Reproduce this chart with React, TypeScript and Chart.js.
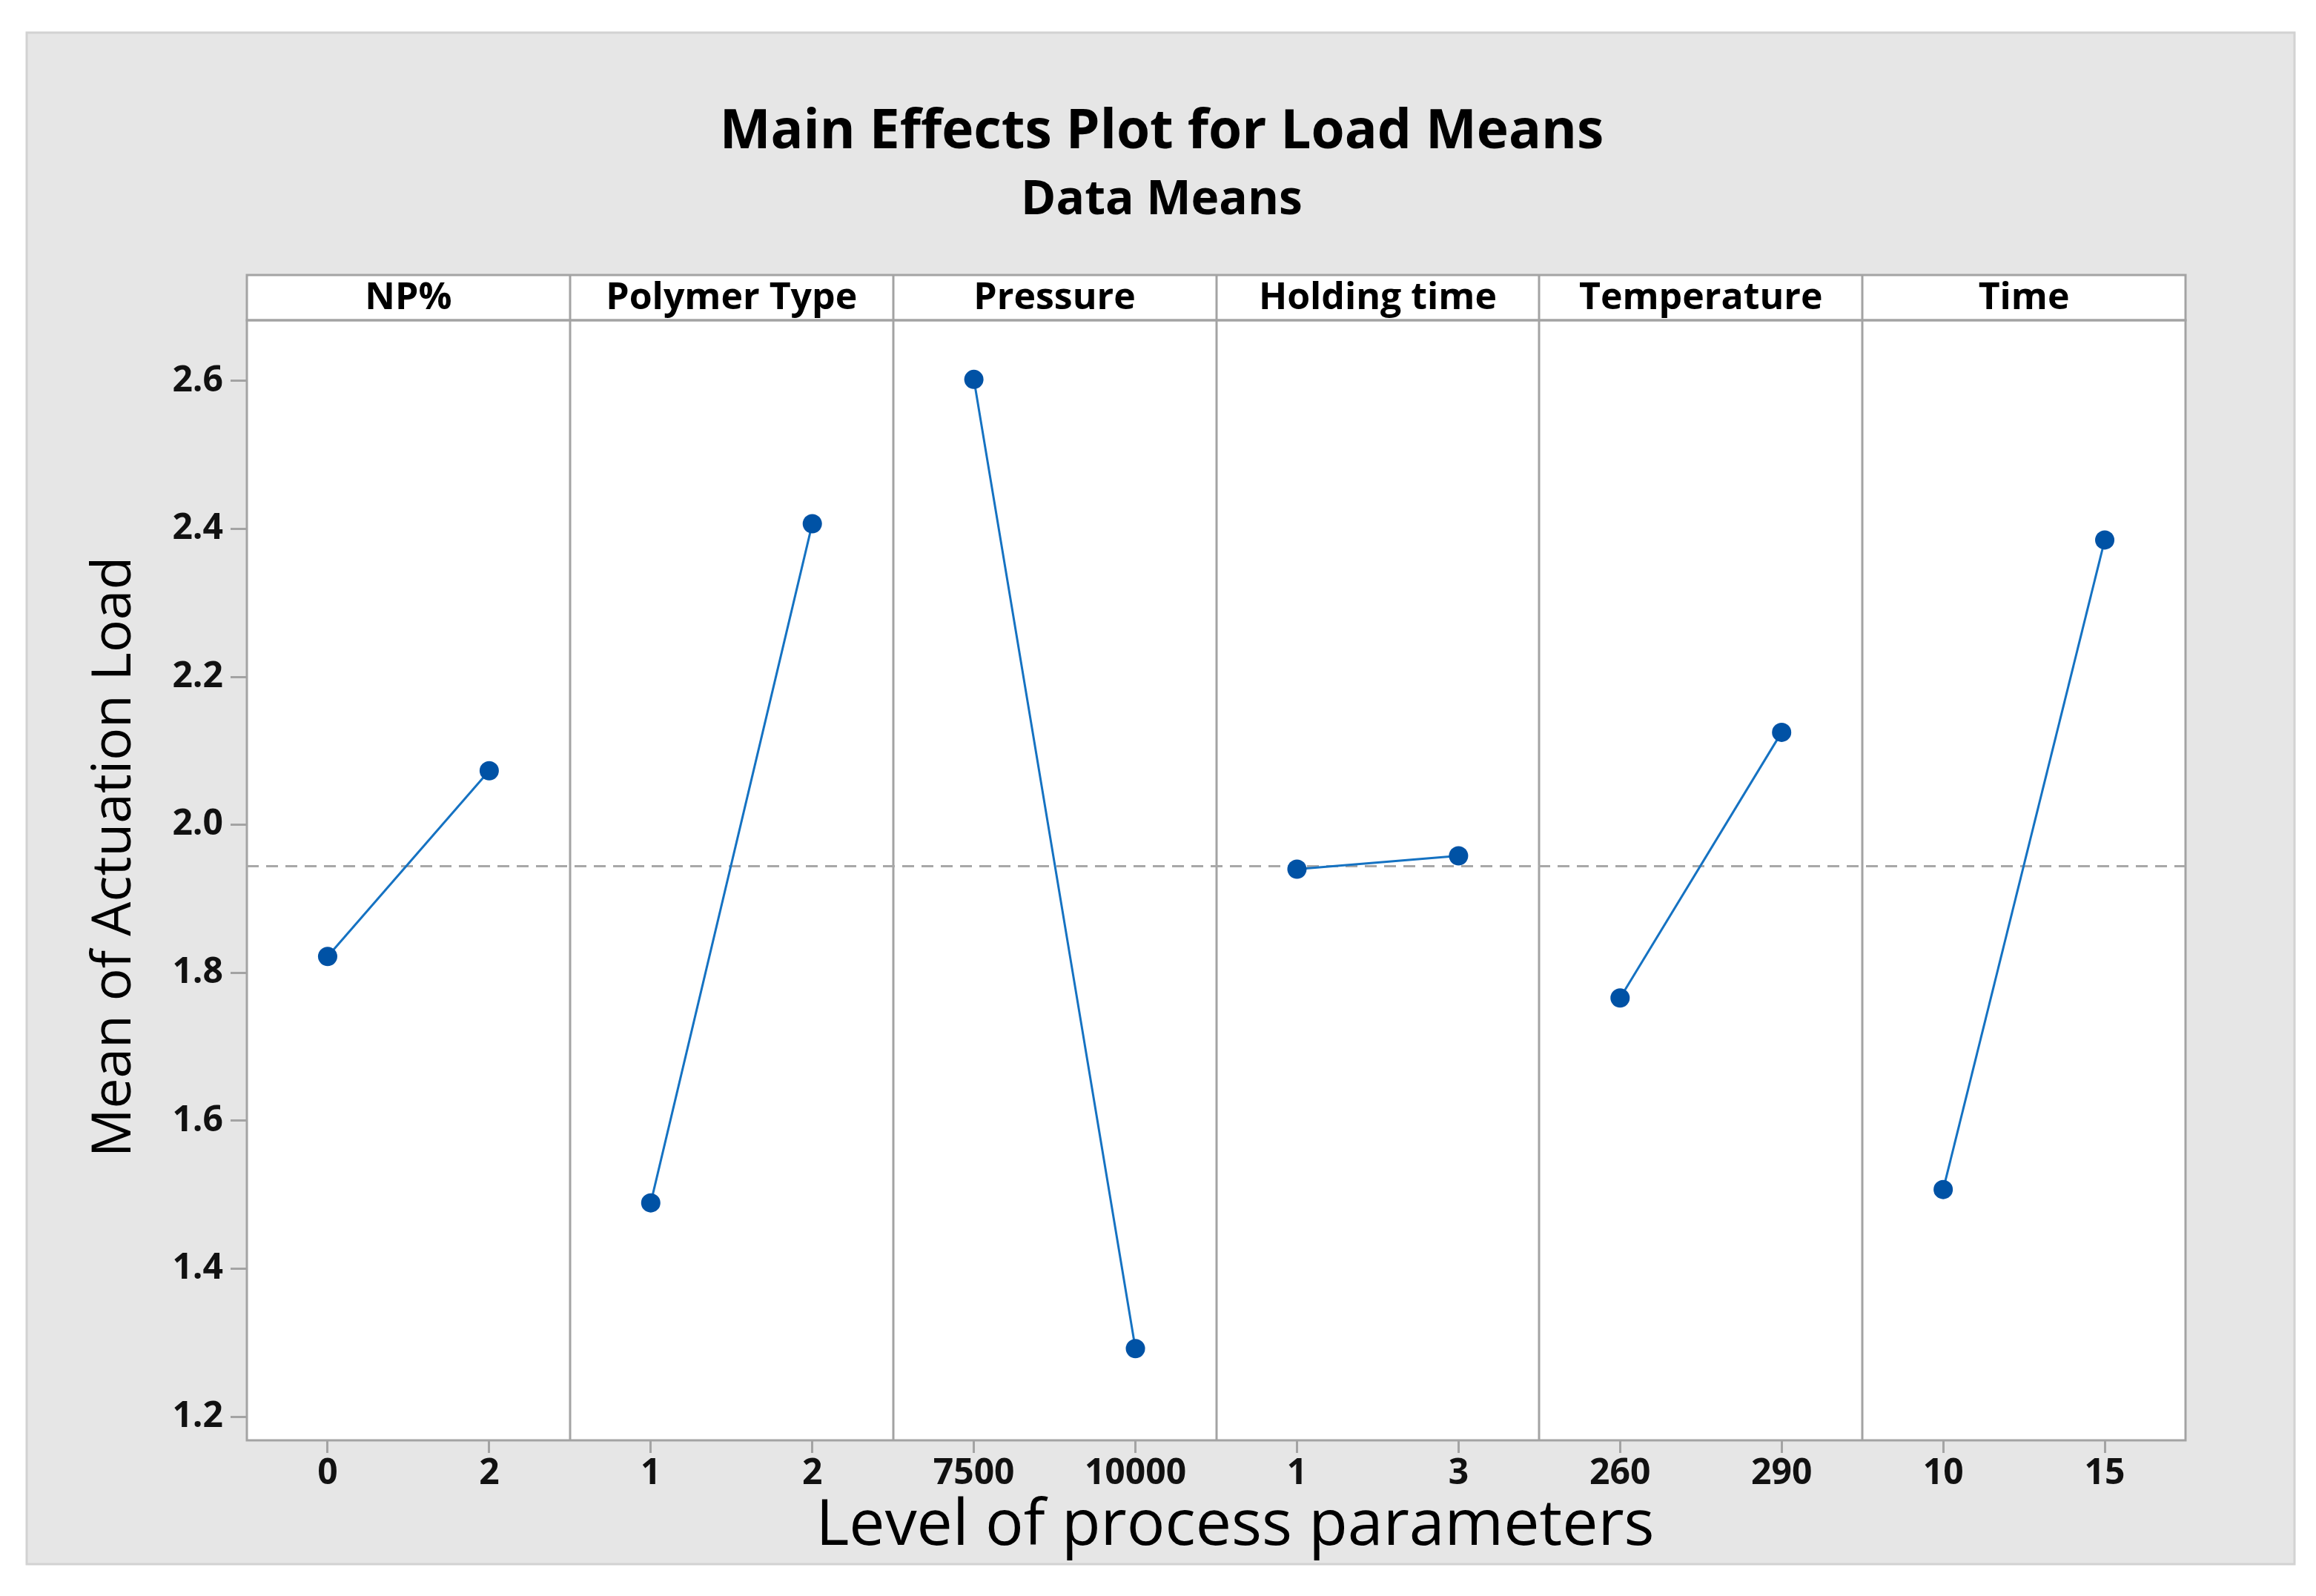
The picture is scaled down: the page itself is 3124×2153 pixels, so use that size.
import React, { useEffect, useRef } from "react";
import { Chart, registerables } from "chart.js";

Chart.register(...registerables);

// ---- Data ----
const factors = ["NP%", "Polymer Type", "Pressure", "Holding time", "Temperature", "Time"];
const lowLevels = ["0", "1", "7500", "1", "260", "10"];
const highLevels = ["2", "2", "10000", "3", "290", "15"];
const lowMeans = [1.822, 1.489, 2.602, 1.94, 1.766, 1.507];
const highMeans = [2.073, 2.407, 1.292, 1.958, 2.125, 2.385];
const grandMean = 1.944;
const yTickValues = [1.2, 1.4, 1.6, 1.8, 2.0, 2.2, 2.4, 2.6];

const mainTitle = "Main Effects Plot for Load Means";
const subTitle = "Data Means";
const xTitle = "Level of process parameters";
const yTitle = "Mean of Actuation Load";

// ---- Styles ----
const W = 3124;
const H = 2153;
const FONT = "'Open Sans', 'Noto Sans', sans-serif";
const GRID = "#a3a3a3";
const BG = "#e6e6e6";
const PLOT_LEFT = 333;
const PLOT_RIGHT = 2948;
const PLOT_TOP = 432;
const PLOT_BOTTOM = 1943;
const HEADER_TOP = 371;

const flatLabels: string[] = [];
const tickPositions: number[] = [];
factors.forEach((_, i) => {
  flatLabels.push(lowLevels[i], highLevels[i]);
  tickPositions.push(i * 2 + 0.5, i * 2 + 1.5);
});

const decor = {
  id: "decor",
  beforeDraw(chart: any) {
    const { ctx, chartArea: a } = chart;
    ctx.save();
    ctx.fillStyle = "#ffffff";
    ctx.fillRect(0, 0, W, H);
    ctx.fillStyle = BG;
    ctx.fillRect(36, 44, 3059, 2066);
    ctx.strokeStyle = "#d2d2d2";
    ctx.lineWidth = 3;
    ctx.strokeRect(36, 44, 3059, 2066);
    // plot area
    ctx.fillStyle = "#ffffff";
    ctx.fillRect(a.left, a.top, a.right - a.left, a.bottom - a.top);
    // header strip
    ctx.fillRect(a.left, HEADER_TOP, a.right - a.left, a.top - HEADER_TOP);
    // titles
    ctx.fillStyle = "#000";
    ctx.textAlign = "center";
    ctx.textBaseline = "middle";
    ctx.font = `700 73px ${FONT}`;
    ctx.fillText(mainTitle, 1567, 179);
    ctx.font = `700 64px ${FONT}`;
    ctx.fillText(subTitle, 1567, 271);
    // axis titles
    ctx.font = `400 86px ${FONT}`;
    ctx.fillText(xTitle, 1666, 2059);
    ctx.save();
    ctx.translate(155, 1156);
    ctx.rotate(-Math.PI / 2);
    ctx.font = `400 73px ${FONT}`;
    ctx.fillText(yTitle, 0, 0);
    ctx.restore();
    // header texts and frame
    const xs = chart.scales.x;
    ctx.font = `700 50px ${FONT}`;
    factors.forEach((f, i) => {
      ctx.fillText(f, xs.getPixelForValue(i * 2 + 1), (HEADER_TOP + a.top) / 2 + 1);
    });
    ctx.strokeStyle = GRID;
    ctx.lineWidth = 3;
    ctx.strokeRect(a.left, HEADER_TOP, a.right - a.left, a.top - HEADER_TOP);
    ctx.restore();
  },
  beforeDatasetsDraw(chart: any) {
    const { ctx, chartArea: a } = chart;
    const xs = chart.scales.x;
    ctx.save();
    ctx.strokeStyle = GRID;
    ctx.lineWidth = 3;
    for (let i = 1; i < factors.length; i++) {
      const px = Math.round(xs.getPixelForValue(i * 2));
      ctx.beginPath();
      ctx.moveTo(px, HEADER_TOP);
      ctx.lineTo(px, a.bottom);
      ctx.stroke();
    }
    ctx.strokeRect(a.left, a.top, a.right - a.left, a.bottom - a.top);
    ctx.restore();
  },
};

export default function App() {
  const ref = useRef<HTMLCanvasElement | null>(null);
  useEffect(() => {
    document.body.style.margin = "0";
    const canvas = ref.current;
    if (!canvas) return;
    const datasets: any[] = factors.map((f, i) => ({
      label: f,
      data: [
        { x: i * 2 + 0.5, y: lowMeans[i] },
        { x: i * 2 + 1.5, y: highMeans[i] },
      ],
      borderColor: "#1572c2",
      borderWidth: 3,
      pointRadius: 13,
      pointBackgroundColor: "#0052a5",
      pointBorderColor: "#0052a5",
      pointBorderWidth: 0,
      order: 0,
    }));
    datasets.push({
      label: "Mean",
      data: [
        { x: 0, y: grandMean },
        { x: factors.length * 2, y: grandMean },
      ],
      borderColor: "#a8a8a8",
      borderWidth: 3,
      borderDash: [16, 10],
      pointRadius: 0,
      order: 10,
    });
    const chart = new Chart(canvas, {
      type: "line",
      data: { datasets },
      plugins: [decor],
      options: {
        animation: false,
        responsive: false,
        devicePixelRatio: 1,
        layout: { padding: { left: 0, right: W - PLOT_RIGHT, top: PLOT_TOP, bottom: 0 } },
        plugins: { legend: { display: false }, tooltip: { enabled: false }, title: { display: false } },
        scales: {
          x: {
            type: "linear",
            min: 0,
            max: factors.length * 2,
            afterBuildTicks: (s: any) => {
              s.ticks = tickPositions.map((v) => ({ value: v }));
            },
            afterFit: (s: any) => {
              s.height = H - PLOT_BOTTOM;
            },
            border: { display: false },
            grid: { drawOnChartArea: false, drawTicks: true, tickLength: 17, color: GRID, lineWidth: 3 },
            ticks: {
              autoSkip: false,
              maxRotation: 0,
              padding: 0,
              color: "#111",
              font: { family: FONT, size: 48, weight: "700" },
              callback: (_v: any, i: number) => flatLabels[i],
            },
          },
          y: {
            type: "linear",
            min: 1.168,
            max: 2.682,
            afterBuildTicks: (s: any) => {
              s.ticks = yTickValues.map((v) => ({ value: v }));
            },
            afterFit: (s: any) => {
              s.width = PLOT_LEFT;
            },
            border: { display: false },
            grid: { drawOnChartArea: false, drawTicks: true, tickLength: 22, color: GRID, lineWidth: 3 },
            ticks: {
              padding: 10,
              color: "#111",
              font: { family: FONT, size: 48, weight: "700" },
              callback: (v: any) => Number(v).toFixed(1),
            },
          },
        },
      },
    } as any);
    return () => chart.destroy();
  }, []);
  return (
    <div style={{ width: W, height: H }}>
      <canvas ref={ref} width={W} height={H} style={{ width: W, height: H, display: "block" }} />
    </div>
  );
}
